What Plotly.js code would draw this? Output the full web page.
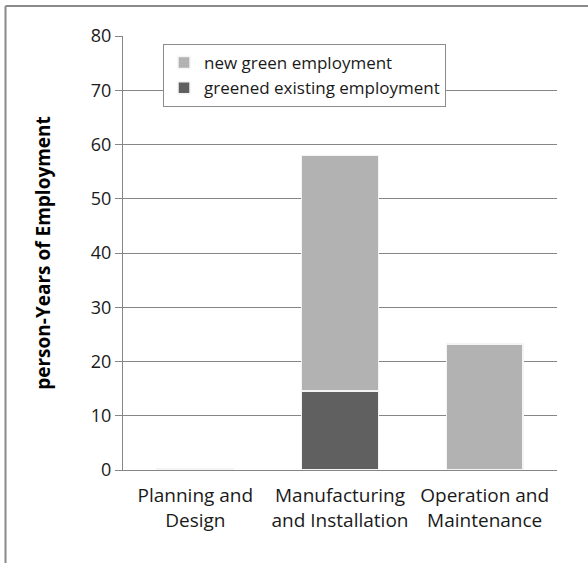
<!DOCTYPE html>
<html>
<head>
<meta charset="utf-8">
<script src="https://cdn.plot.ly/plotly-3.0.1.min.js"></script>
<style>
  html, body { margin: 0; padding: 0; background: #fff; }
  #chart { width: 588px; height: 563px; }
</style>
</head>
<body>
<div id="chart"></div>
<script>
// Person-years of employment by project phase
const categories = ['Planning and<br>Design', 'Manufacturing<br>and Installation', 'Operation and<br>Maintenance'];
const greenedExisting = [0, 14.6, 0];
const newGreen = [0.15, 43.4, 23.2];
const seriesNames = ['greened existing employment', 'new green employment'];
const yTicks = [0, 10, 20, 30, 40, 50, 60, 70, 80];

const W = 588, H = 563;
const M = { l: 123, r: 31, t: 36, b: 93 };
const plotW = W - M.l - M.r, plotH = H - M.t - M.b;
const px = x => (x - M.l) / plotW;       // page pixel -> paper x
const py = y => (H - M.b - y) / plotH;   // page pixel -> paper y

const FONT = '"Open Sans", "Noto Sans", sans-serif';
const barLine = { color: '#f4f4f4', width: 1.5 };

const traces = [
  {
    type: 'bar', name: seriesNames[0], x: categories, y: greenedExisting,
    marker: { color: '#606060', line: barLine }, width: 0.53
  },
  {
    type: 'bar', name: seriesNames[1], x: categories, y: newGreen,
    marker: { color: '#b2b2b2', line: barLine }, width: 0.53
  }
];

const layout = {
  width: W, height: H,
  margin: M,
  paper_bgcolor: '#fff', plot_bgcolor: '#fff',
  barmode: 'stack',
  font: { family: FONT, size: 16, color: '#1a1a1a' },
  showlegend: true,
  legend: {
    traceorder: 'reversed',
    x: px(163), y: py(44), xanchor: 'left', yanchor: 'top',
    bgcolor: '#fff', bordercolor: '#8c8c8c', borderwidth: 1,
    font: { family: FONT, size: 17, color: '#1a1a1a' },
    itemwidth: 30,
    entrywidth: 290, entrywidthmode: 'pixels',
    tracegroupgap: 0
  },
  xaxis: {
    type: 'category',
    showline: true, linecolor: '#868686', linewidth: 1,
    showgrid: false, ticks: '',
    ticklabelstandoff: 8,
    tickfont: { family: FONT, size: 19, color: '#1a1a1a' }
  },
  yaxis: {
    range: [0, 80],
    tickvals: yTicks,
    showline: true, linecolor: '#868686', linewidth: 1,
    showgrid: true, gridcolor: '#868686', gridwidth: 1,
    zeroline: false,
    ticks: 'outside', ticklen: 7, tickcolor: '#868686',
    tickfont: { family: FONT, size: 18, color: '#1a1a1a' },
    title: {
      text: '<b>person-Years of Employment</b>',
      font: { family: FONT, size: 19, color: '#000' },
      standoff: 35
    }
  },
  shapes: [
    // chart-area border (left and top edges)
    {
      type: 'line', xref: 'paper', yref: 'paper',
      x0: px(5.5), x1: px(5.5), y0: py(6), y1: py(580),
      line: { color: '#8a8a8a', width: 2 }
    },
    {
      type: 'line', xref: 'paper', yref: 'paper',
      x0: px(5.5), x1: px(600), y0: py(6), y1: py(6),
      line: { color: '#8a8a8a', width: 2 }
    }
  ]
};

Plotly.newPlot('chart', traces, layout, { displayModeBar: false, staticPlot: true });
</script>
</body>
</html>
